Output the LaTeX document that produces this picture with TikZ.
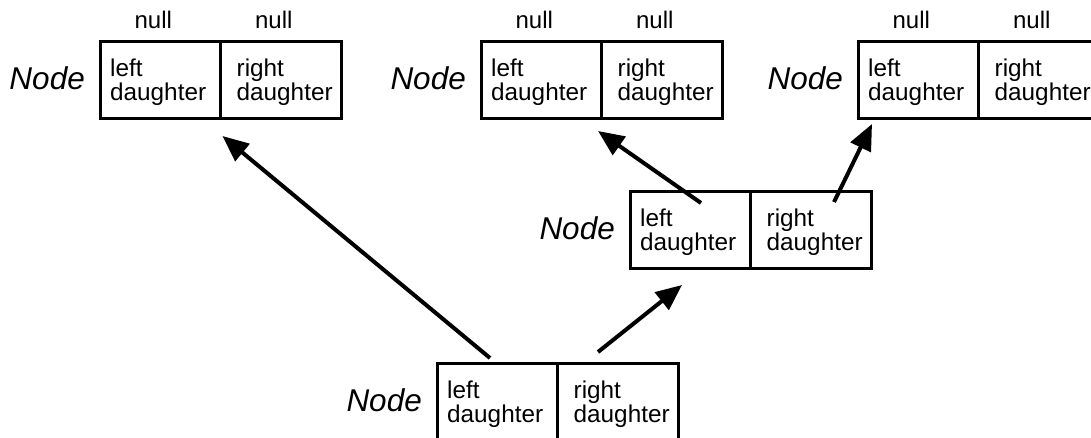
\documentclass[tikz,border=0pt]{standalone}
\usepackage{fontspec}
\setmainfont{Liberation Sans}
\usetikzlibrary{arrows.meta,calc}

\tikzset{
  cell/.style={draw=black, line width=3pt, minimum width=120.5pt, minimum height=77pt,
               inner sep=0pt, outer sep=0pt},
  lbl/.style={inner sep=0pt, font=\fontsize{24.3pt}{27pt}\selectfont},
  nulllbl/.style={inner sep=0pt, font=\fontsize{24pt}{27pt}\selectfont, anchor=base},
  nodename/.style={inner sep=0pt, anchor=base east, font=\fontsize{31.5pt}{34pt}\selectfont\itshape},
  link/.style={line width=4pt, -{Triangle[length=26pt,width=22pt]}}
}

% One tree node record: two cells "left daughter" | "right daughter", with the "Node" caption
% #1 name, #2 x of left edge, #3 y of top edge
\newcommand\treerecord[3]{%
  \node[cell, anchor=north west] (#1-l) at (#2,#3) {};
  \node[cell, anchor=north west] (#1-r) at (#1-l.north east) {};
  \node[lbl, anchor=base west] (#1-l1) at ($(#1-l.north west)+(10,35)$) {left};
  \node[lbl, anchor=base west] (#1-l2) at ($(#1-l.north west)+(10,59.5)$) {daughter};
  \node[lbl, anchor=base west] (#1-r1) at ($(#1-r.north west)+(16,35)$) {right};
  \node[lbl, anchor=base west] (#1-r2) at ($(#1-r.north west)+(16,59.5)$) {daughter};
  \node[nodename] (#1-name) at ($(#1-l.north west)+(-15,48)$) {Node};
}
% "null" markers above both cells of a leaf record
\newcommand\nullmarks[1]{%
  \node[nulllbl] (#1-nl) at ($(#1-l.north)+(-7,-13)$) {null};
  \node[nulllbl] (#1-nr) at ($(#1-r.north)+(-7,-13)$) {null};
}

\begin{document}
\begin{tikzpicture}[x=1pt, y=-1pt]
  \useasboundingbox (0,0) rectangle (1091,437);

  % leaves
  \treerecord{A}{100}{41}
  \treerecord{B}{481}{41}
  \treerecord{C}{858}{41}
  \nullmarks{A}
  \nullmarks{B}
  \nullmarks{C}

  % inner node and root
  \treerecord{D}{630}{191}
  \treerecord{E}{437}{363}

  % daughter pointers
  \draw[link] ($(E-l.north west)+(53,-5)$) -- ($(A-l.south east)+(2,18)$);
  \draw[link] ($(E-r.north west)+(40.5,-11)$) -- ($(D-l.south east)+(-68.5,17)$);
  \draw[link] ($(D-l.north west)+(71,12)$) -- ($(B-l.south east)+(-3.5,13)$);
  \draw[link] ($(D-r.north west)+(83.5,11)$) -- ($(C-l.south west)+(14,6)$);
\end{tikzpicture}
\end{document}
